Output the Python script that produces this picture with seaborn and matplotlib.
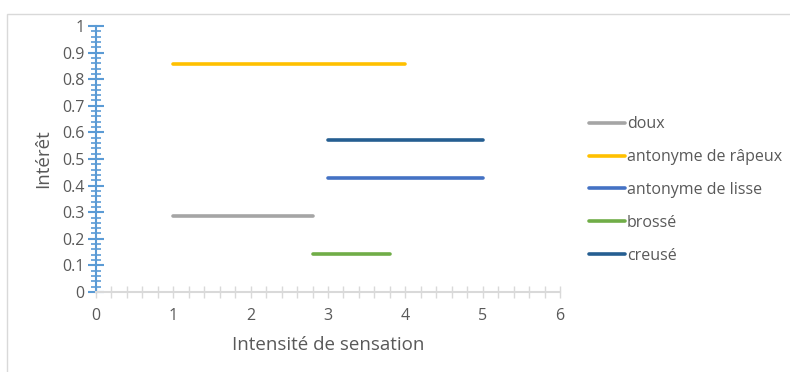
import pandas as pd
import matplotlib
matplotlib.use("Agg")
import matplotlib.pyplot as plt
from matplotlib.patches import Rectangle
from matplotlib.ticker import MultipleLocator
import seaborn as sns

# one horizontal segment per descriptor: start/end intensity, interest level
series = ["doux", "antonyme de râpeux", "antonyme de lisse", "brossé", "creusé"]
x_start = [1, 1, 3, 2.8, 3]
x_end = [2.8, 4, 5, 3.8, 5]
interest = [2 / 7, 6 / 7, 3 / 7, 1 / 7, 4 / 7]
colors = ["#A5A5A5", "#FFC000", "#4472C4", "#70AD47", "#255E91"]

rows = []
for name, a, b, y in zip(series, x_start, x_end, interest):
    rows.append({"serie": name, "x": a, "y": y})
    rows.append({"serie": name, "x": b, "y": y})
df = pd.DataFrame(rows)

sns.set_theme(style="white")
plt.rcParams["font.family"] = ["Open Sans", "DejaVu Sans"]
text_col = "#595959"

fig = plt.figure(figsize=(7.9, 3.72), dpi=100)
ax = fig.add_axes([96 / 790, 80 / 372, 464 / 790, 266 / 372])

# light chart frame (only top and left edges are visible in the crop)
fig.patches.append(Rectangle((7 / 790, -0.1), 1.2, (365 - 7) / 372 + 0.1,
                             transform=fig.transFigure, fill=False,
                             edgecolor="#D9D9D9", linewidth=1))

sns.lineplot(data=df, x="x", y="y", hue="serie", hue_order=series,
             palette=dict(zip(series, colors)), estimator=None, sort=False,
             linewidth=2.6, ax=ax, solid_capstyle="round")

ax.set_xlim(0, 6)
ax.set_ylim(0, 1)
ax.xaxis.set_major_locator(MultipleLocator(1))
ax.xaxis.set_minor_locator(MultipleLocator(0.2))
ax.yaxis.set_minor_locator(MultipleLocator(0.02))
ax.set_yticks([i / 10 for i in range(11)])
ax.set_yticklabels(["0", "0.1", "0.2", "0.3", "0.4", "0.5", "0.6", "0.7", "0.8", "0.9", "1"])

for s in ["top", "right"]:
    ax.spines[s].set_visible(False)
ax.spines["left"].set_color("#5B9BD5")
ax.spines["left"].set_linewidth(1.5)
ax.spines["bottom"].set_color("#D9D9D9")
ax.spines["bottom"].set_linewidth(1.5)

ax.tick_params(axis="y", which="major", direction="inout", length=11, width=1.5,
               color="#5B9BD5", labelsize=11.5, labelcolor=text_col, pad=3, left=True)
ax.tick_params(axis="y", which="minor", direction="inout", length=7, width=1.2,
               color="#5B9BD5", left=True)
ax.tick_params(axis="x", which="major", direction="inout", length=9, width=1,
               color="#D9D9D9", labelsize=11.5, labelcolor=text_col, pad=7, bottom=True)
ax.tick_params(axis="x", which="minor", direction="inout", length=9, width=1,
               color="#D9D9D9", bottom=True)

ax.set_xlabel("Intensité de sensation", fontsize=13.5, color=text_col, labelpad=9)
ax.set_ylabel("Intérêt", fontsize=13.5, color=text_col, labelpad=7)

handles, labels = ax.get_legend_handles_labels()
ax.legend(handles, labels, loc="center left", bbox_to_anchor=(583 / 790, (372 - 190) / 372),
          bbox_transform=fig.transFigure, frameon=False, fontsize=11.5,
          labelcolor=text_col, handlelength=2.2, handletextpad=0.15,
          labelspacing=1.05, borderaxespad=0)

fig.savefig("out.png", dpi=100)
